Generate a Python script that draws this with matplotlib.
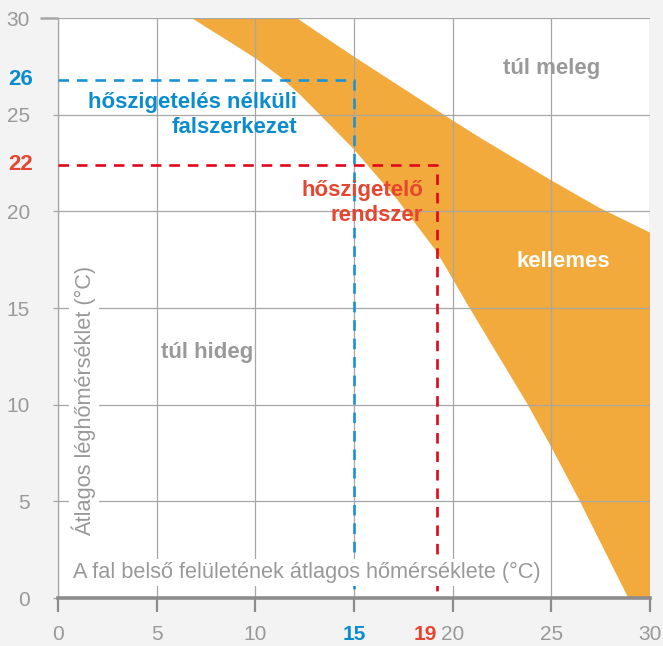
"""Comfort band chart: average air temperature vs. average inner wall surface temperature."""

import matplotlib
matplotlib.use("Agg")  # noqa: E402

import matplotlib.pyplot as plt
import matplotlib.transforms as mtransforms

# ── Data ──────────────────────────────────────────────────────────────────────

# "kellemes" (comfortable) band, lower-left and upper-right edges
band_lower_x = [6.77, 7.86, 8.88, 10.03, 11.24, 12.3, 14.95, 17.2, 19.2, 20.8,
                23.75, 25.0, 26.4, 28.9]
band_lower_y = [30.0, 29.3, 28.65, 27.9, 26.97, 26.0, 23.26, 20.6, 17.9, 15.1,
                10.1, 7.8, 5.1, 0.0]
band_upper_x = [12.1, 13.1, 15.0, 20.0, 21.4, 25.0, 27.4, 30.0]
band_upper_y = [30.0, 29.3, 28.0, 24.7, 23.8, 21.6, 20.2, 18.9]

# reference cases: (wall temp, air temp) and their printed labels
uninsulated_wall, uninsulated_air = 15.0, 26.8
uninsulated_labels = ("15", "26")
insulated_wall, insulated_air = 19.2, 22.4
insulated_labels = ("19", "22")

ticks = [0, 5, 10, 15, 20, 25, 30]

# ── Style ─────────────────────────────────────────────────────────────────────

NARROW = ["Liberation Sans Narrow", "Liberation Sans", "DejaVu Sans"]
WIDE = ["Liberation Sans", "DejaVu Sans"]
plt.rcParams["font.family"] = NARROW

ORANGE = "#f3aa3c"
BLUE_TXT = "#0b8ccf"
BLUE_LN = "#1a92d8"
RED_TXT = "#e6452f"
RED_LN = "#e2061c"
GRAY_TXT = "#999999"
GRID = "#a6a6a6"
AXIS = "#8c8c8c"

fig = plt.figure(figsize=(6.63, 6.46), dpi=100, facecolor="#f3f3f3")
ax = fig.add_axes([58 / 663, 48 / 646, 592 / 663, 580 / 646])
ax.set_facecolor("white")

# band polygon: lower edge top->bottom, then the right edge, then upper edge back
poly_x = band_lower_x + [30.0] + band_upper_x[::-1]
poly_y = band_lower_y + [0.0] + band_upper_y[::-1]
ax.fill(poly_x, poly_y, color=ORANGE, lw=0, zorder=1)

# dashed guide lines
dash = dict(lw=1.9, dashes=(4, 3), zorder=3)
ax.plot([0, uninsulated_wall, uninsulated_wall], [uninsulated_air, uninsulated_air, 0],
        color=BLUE_LN, **dash)
ax.plot([0, insulated_wall, insulated_wall], [insulated_air, insulated_air, 0],
        color=RED_LN, **dash)

ax.set_xlim(0, 30)
ax.set_ylim(0, 30)
ax.set_xticks(ticks)
ax.set_yticks(ticks)
ax.set_axisbelow(False)
ax.grid(True, color=GRID, lw=0.9, zorder=2)

for side in ("top", "right"):
    ax.spines[side].set_visible(False)
ax.spines["left"].set_color(GRID)
ax.spines["left"].set_linewidth(0.9)
ax.spines["bottom"].set_color(AXIS)
ax.spines["bottom"].set_linewidth(2.6)
ax.spines["bottom"].set_zorder(4)

ax.tick_params(axis="y", length=3.6, width=0.9, color=GRID, pad=16.5, labelsize=15,
               labelcolor=GRAY_TXT)
ax.tick_params(axis="x", length=10, width=1.6, color=AXIS, pad=9.5, labelsize=15,
               labelcolor=GRAY_TXT)
for lbl in ax.get_xticklabels() + ax.get_yticklabels():
    lbl.set_family(WIDE)

# longer cap tick at the top of the y axis
top_tick = ax.yaxis.get_major_ticks()[-1]
top_tick.tick1line.set_markersize(13)
top_tick.tick1line.set_markeredgewidth(1.8)
top_tick.tick1line.set_color(AXIS)

# the "15" tick label is highlighted in blue
for lbl in ax.get_xticklabels():
    if lbl.get_text() == uninsulated_labels[0]:
        lbl.set_color(BLUE_TXT)
        lbl.set_fontweight("bold")

# extra highlighted labels outside the axes
ytrans = mtransforms.blended_transform_factory(ax.transAxes, ax.transData)
xtrans = mtransforms.blended_transform_factory(ax.transData, ax.transAxes)
hl = dict(fontsize=16, fontweight="bold", family=WIDE, clip_on=False)
ax.text(-0.042, uninsulated_air, uninsulated_labels[1], transform=ytrans, ha="right",
        va="center", color=BLUE_TXT, **hl)
ax.text(-0.042, insulated_air, insulated_labels[1], transform=ytrans, ha="right",
        va="center", color=RED_TXT, **hl)
ax.text(insulated_wall, -0.0625, insulated_labels[0], transform=xtrans, ha="right",
        va="center", color=RED_TXT, **dict(hl, fontsize=15))

# region / case annotations
bold = dict(fontsize=16, fontweight="bold", zorder=5)
ax.text(12.1, 25.0, "hőszigetelés nélküli\nfalszerkezet", ha="right", va="center",
        multialignment="right", linespacing=1.25, color=BLUE_TXT, **bold)
ax.text(18.5, 20.45, "hőszigetelő\nrendszer", ha="right", va="center",
        multialignment="right", linespacing=1.25, color=RED_TXT, **bold)
ax.text(25.0, 27.4, "túl meleg", ha="center", va="center", color="#999999", **bold)
ax.text(25.6, 17.4, "kellemes", ha="center", va="center", color="white", **bold)
ax.text(7.55, 12.7, "túl hideg", ha="center", va="center", color="#999999", **bold)

# axis titles sit inside the plot area on white boxes
box = dict(facecolor="white", edgecolor="none", pad=2)
ax.text(12.6, 1.3, "A fal belső felületének átlagos hőmérséklete (°C)", ha="center",
        va="center", fontsize=15.7, color=GRAY_TXT, bbox=box, zorder=4)
ax.text(1.3, 10.2, "Átlagos léghőmérséklet (°C)", ha="center", va="center",
        rotation=90, fontsize=15.7, color=GRAY_TXT, bbox=box, zorder=4)

fig.savefig("out.png", dpi=100, facecolor=fig.get_facecolor())
